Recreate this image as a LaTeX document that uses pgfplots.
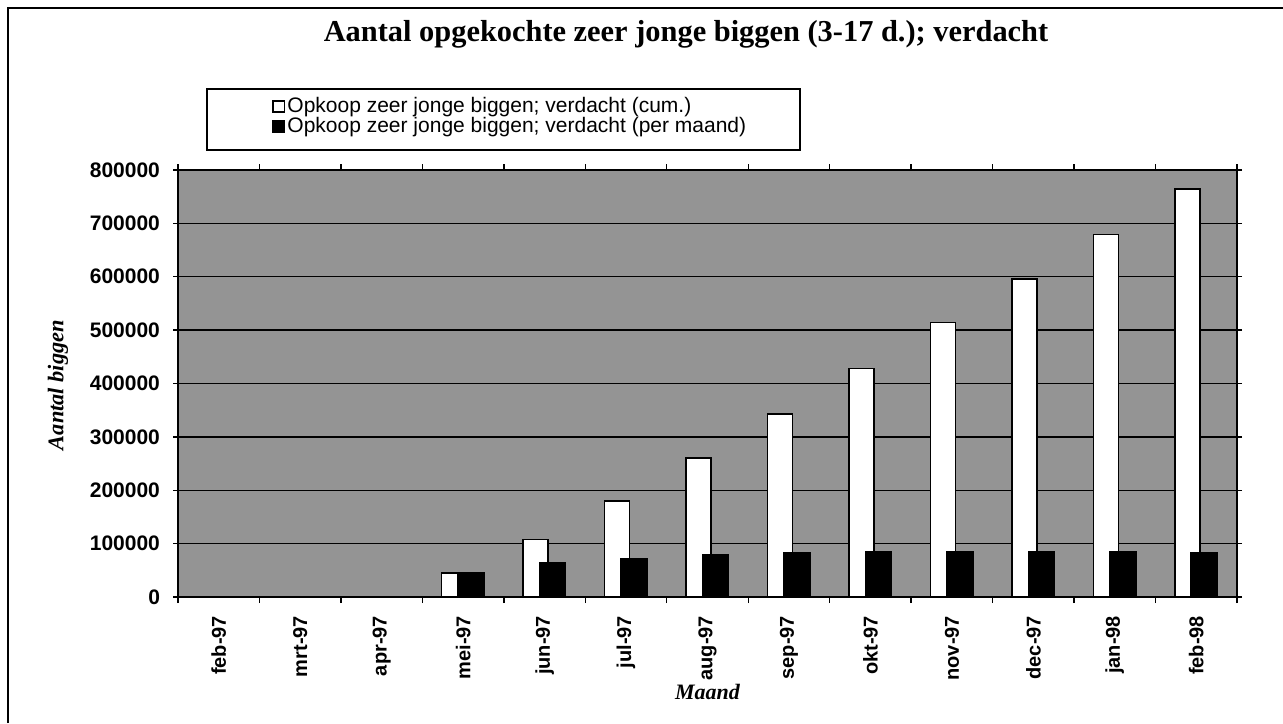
\documentclass[border=0pt]{standalone}
\usepackage{fontspec}
\setmainfont{Liberation Sans}
\newfontfamily\timesf{Liberation Serif}
\usepackage{pgfplots}
\pgfplotsset{compat=1.18}
\definecolor{plotbg}{gray}{0.58}

\begin{document}
\begin{tikzpicture}
\path[use as bounding box] (0,0) rectangle (641.5pt,361.5pt);
\draw[line width=1pt] (4pt,0) -- (4pt,357.5pt) -- (641.5pt,357.5pt);
\node[font=\timesf\bfseries\fontsize{15.2}{17}\selectfont, anchor=base, inner sep=0pt] at (343pt,340.5pt) {Aantal opgekochte zeer jonge biggen (3-17 d.); verdacht};
\draw[line width=0.9pt] (103.5pt,286.5pt) rectangle (400pt,317pt);
\begin{axis}[
  at={(89pt,63pt)}, anchor=south west, scale only axis,
  width=529.5pt, height=213.5pt,
  xmin=-0.5, xmax=12.5, ymin=0, ymax=800000,
  axis background/.style={fill=plotbg},
  axis line style={line width=1pt},
  xtick={0,...,12},
  xticklabels={feb-97,mrt-97,apr-97,mei-97,jun-97,jul-97,aug-97,sep-97,okt-97,nov-97,dec-97,jan-98,feb-98},
  minor xtick={-0.5,0.5,...,12.5},
  major x tick style={draw=none},
  minor x tick style={black, line width=0.7pt},
  minor tick length=3pt,
  ytick={0,100000,...,800000},
  y tick style={black, line width=0.7pt},
  major tick length=2.5pt,
  tick align=outside,
  scaled y ticks=false,
  yticklabel style={/pgf/number format/fixed, /pgf/number format/1000 sep={}, xshift=-3pt, font=\bfseries\fontsize{10.5}{12}\selectfont},
  /pgf/number format/assume math mode=true,
  xticklabel style={rotate=90, anchor=east, xshift=-3.5pt, font=\bfseries\fontsize{10}{12}\selectfont},
  ymajorgrids,
  grid style={black, line width=0.7pt},
  xlabel={Maand},
  ylabel={Aantal biggen},
  xlabel style={font=\timesf\bfseries\itshape\fontsize{11}{13}\selectfont, at={(axis description cs:0.5,-0.223)}, anchor=center},
  ylabel style={font=\timesf\bfseries\itshape\fontsize{11.2}{13}\selectfont, at={(axis description cs:-0.1133,0.4965)}, anchor=center},
  legend style={at={(axis description cs:0.0888,1.1756)}, anchor=north west, draw=none, fill=none,
    font=\fontsize{10.5}{12}\selectfont, row sep=-1.2pt, inner sep=0pt,
    nodes={inner sep=1pt},
    /tikz/every even column/.append style={column sep=4pt}},
  legend cell align=left,
]
\addplot[ybar, bar width=12.5pt, bar shift=-4.5pt, fill=white, draw=black, line width=0.8pt,
  legend image code/.code={\draw[fill=white, draw=black, line width=0.9pt] (0pt,-2.7pt) rectangle (5.6pt,2.7pt);}]
  coordinates {(3,45000) (4,108000) (5,180000) (6,260000) (7,343000) (8,428000) (9,514000) (10,596000) (11,679000) (12,765000)};
\addlegendentry{Opkoop zeer jonge biggen; verdacht (cum.)}
\addplot[ybar, bar width=13pt, bar shift=4pt, fill=black, draw=black, line width=0.8pt,
  legend image code/.code={\draw[fill=black, draw=black, line width=0.9pt] (0pt,-2.7pt) rectangle (5.6pt,2.7pt);}]
  coordinates {(3,45000) (4,64000) (5,72000) (6,80000) (7,83000) (8,84000) (9,85000) (10,85000) (11,84000) (12,83000)};
\addlegendentry{Opkoop zeer jonge biggen; verdacht (per maand)}
\end{axis}
\end{tikzpicture}
\end{document}
